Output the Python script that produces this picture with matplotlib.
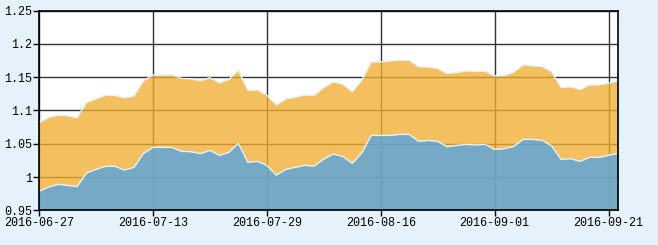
import matplotlib
matplotlib.use("Agg")
import matplotlib.pyplot as plt

# trading days, 2016-06-27 .. 2016-09-22
dates = [
    "2016-06-27", "2016-06-28", "2016-06-29", "2016-06-30", "2016-07-01",
    "2016-07-04", "2016-07-05", "2016-07-06", "2016-07-07", "2016-07-08",
    "2016-07-11", "2016-07-12", "2016-07-13", "2016-07-14", "2016-07-15",
    "2016-07-18", "2016-07-19", "2016-07-20", "2016-07-21", "2016-07-22",
    "2016-07-25", "2016-07-26", "2016-07-27", "2016-07-28", "2016-07-29",
    "2016-08-01", "2016-08-02", "2016-08-03", "2016-08-04", "2016-08-05",
    "2016-08-08", "2016-08-09", "2016-08-10", "2016-08-11", "2016-08-12",
    "2016-08-15", "2016-08-16", "2016-08-17", "2016-08-18", "2016-08-19",
    "2016-08-22", "2016-08-23", "2016-08-24", "2016-08-25", "2016-08-26",
    "2016-08-29", "2016-08-30", "2016-08-31", "2016-09-01", "2016-09-02",
    "2016-09-05", "2016-09-06", "2016-09-07", "2016-09-08", "2016-09-09",
    "2016-09-12", "2016-09-13", "2016-09-14", "2016-09-19", "2016-09-20",
    "2016-09-21", "2016-09-22",
]

upper = [
    1.0815, 1.0895, 1.093, 1.092, 1.089, 1.112, 1.1175, 1.123, 1.1225, 1.119,
    1.122, 1.1445, 1.153, 1.1535, 1.1535, 1.148, 1.1475, 1.145, 1.149, 1.1415,
    1.1465, 1.1605, 1.130, 1.131, 1.123, 1.1085, 1.1175, 1.120, 1.123, 1.123,
    1.1345, 1.143, 1.1395, 1.128, 1.1455, 1.173, 1.173, 1.1745, 1.1755, 1.1755,
    1.1655, 1.1655, 1.163, 1.1555, 1.157, 1.1595, 1.1585, 1.159, 1.152, 1.1525,
    1.1575, 1.1685, 1.167, 1.166, 1.158, 1.1345, 1.1355, 1.1315, 1.1385, 1.1385,
    1.141, 1.144,
]

lower = [
    0.9785, 0.985, 0.989, 0.9875, 0.9855, 1.006, 1.0115, 1.016, 1.016, 1.0105,
    1.0145, 1.0355, 1.0445, 1.0445, 1.0445, 1.0385, 1.038, 1.035, 1.040, 1.0325,
    1.037, 1.0505, 1.022, 1.0235, 1.0175, 1.003, 1.0115, 1.0145, 1.0175, 1.0165,
    1.027, 1.0345, 1.031, 1.0205, 1.036, 1.0625, 1.0625, 1.0625, 1.064, 1.064,
    1.0535, 1.055, 1.0535, 1.0455, 1.0475, 1.049, 1.048, 1.049, 1.0415, 1.0425,
    1.046, 1.0565, 1.0565, 1.055, 1.047, 1.0265, 1.0275, 1.0235, 1.0295, 1.0295,
    1.0325, 1.0355,
]

y_ticks = [0.95, 1.0, 1.05, 1.1, 1.15, 1.2, 1.25]
y_labels = ["0.95", "1", "1.05", "1.1", "1.15", "1.2", "1.25"]
x_tick_every = 12

BG = "#e6f2fb"
FONT = "Liberation Mono"

fig = plt.figure(figsize=(6.58, 2.45), dpi=100, facecolor=BG)
ax = fig.add_axes([0.0593, 0.1416, 0.8799, 0.8155])
ax.set_facecolor("white")

x = list(range(len(dates)))
base = y_ticks[0]

# grid sits under the semi-transparent areas
ax.grid(True, color="#333333", linewidth=1.0)
ax.set_axisbelow(True)

ax.fill_between(x, base, upper, color="#f1ae31", alpha=0.78, linewidth=0, zorder=2)
ax.plot(x, upper, color="#e4f1f8", linewidth=1.0, zorder=3)
ax.fill_between(x, base, lower, color="#52a4e3", alpha=0.78, linewidth=0, zorder=4)
ax.plot(x, lower, color="#e4f1f8", linewidth=1.0, zorder=5)

ax.set_xlim(0, len(dates) - 1)
ax.set_ylim(y_ticks[0], y_ticks[-1])
ax.set_yticks(y_ticks)
ax.set_yticklabels(y_labels, family=FONT, fontsize=8.5)
xt = x[::x_tick_every]
ax.set_xticks(xt)
ax.set_xticklabels([dates[i] for i in xt], family=FONT, fontsize=8.5)
ax.tick_params(direction="out", length=4, width=1, pad=1, colors="black")

for s in ax.spines.values():
    s.set_color("black")
    s.set_linewidth(1.2)
    s.set_zorder(10)

fig.savefig("out.png", dpi=100, facecolor=BG)
